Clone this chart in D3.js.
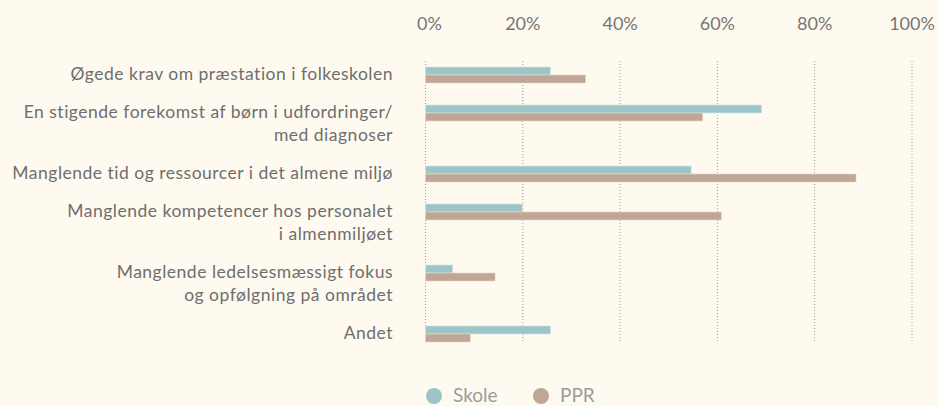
<!DOCTYPE html>
<html>
<head>
<meta charset="utf-8">
<script src="https://cdn.jsdelivr.net/npm/d3@7"></script>
<style>
  html, body { margin:0; padding:0; background:#fffaf0; }
  svg { display:block; font-family: Lato, "Open Sans", sans-serif; }
</style>
</head>
<body>
<svg id="svg" width="938" height="406"></svg>
<script>
// data
var categories = [
  ["Øgede krav om præstation i folkeskolen"],
  ["En stigende forekomst af børn i udfordringer/", "med diagnoser"],
  ["Manglende tid og ressourcer i det almene miljø"],
  ["Manglende kompetencer hos personalet", "i almenmiljøet"],
  ["Manglende ledelsesmæssigt fokus", "og opfølgning på området"],
  ["Andet"]
];
var skole = [25.7, 69.1, 54.6, 19.9, 5.6, 25.7];
var ppr = [32.9, 57.0, 88.5, 60.8, 14.3, 9.2];
var tickValues = [0, 20, 40, 60, 80, 100];
var seriesNames = ["Skole", "PPR"];
var colors = ["#9bc5c6", "#c0a694"];

var svg = d3.select("#svg");

var x = d3.scaleLinear().domain([0, 100]).range([425.5, 912]);

// rows get taller when the label wraps
var starts = [], acc = 0;
categories.forEach(function (c, i) {
  starts.push(acc);
  acc += c.length + 0.65;
});
var y = d3.scaleLinear().domain([0, starts[starts.length - 1]]).range([75, 334]);
var barH = 8;

// grid
svg.append("g")
  .selectAll("line")
  .data(tickValues).enter().append("line")
    .attr("x1", d => x(d)).attr("x2", d => x(d))
    .attr("y1", 61).attr("y2", 342)
    .attr("stroke", "#9a9a9a")
    .attr("stroke-width", 1)
    .attr("stroke-dasharray", "1,2");

// top axis labels
svg.append("g")
  .selectAll("text")
  .data(tickValues).enter().append("text")
    .attr("x", d => x(d) + (d === 0 ? 4 : 0))
    .attr("y", 30)
    .attr("text-anchor", "middle")
    .attr("fill", "#767676")
    .style("font-size", "18px")
    .text(d => d + "%");

// bars
var rows = svg.append("g").selectAll("g")
  .data(categories).enter().append("g");

rows.append("rect")
    .attr("x", x(0))
    .attr("y", (d, i) => y(starts[i]) - barH)
    .attr("width", (d, i) => x(skole[i]) - x(0))
    .attr("height", barH)
    .attr("fill", colors[0])
    .attr("stroke", "#d6e8e6").attr("stroke-width", 0.6);

rows.append("rect")
    .attr("x", x(0))
    .attr("y", (d, i) => y(starts[i]))
    .attr("width", (d, i) => x(ppr[i]) - x(0))
    .attr("height", barH)
    .attr("fill", colors[1])
    .attr("stroke", "#e6d8cc").attr("stroke-width", 0.6);

// category labels
rows.each(function (d, i) {
  var t = d3.select(this).append("text")
    .attr("text-anchor", "end")
    .attr("fill", "#6e6e6e")
    .style("font-size", "17.5px")
    .style("letter-spacing", "0.5px");
  d.forEach(function (line, j) {
    t.append("tspan")
      .attr("x", 393)
      .attr("y", y(starts[i]) + 5 + j * 23)
      .text(line);
  });
});

// legend
var leg = svg.append("g").selectAll("g")
  .data(seriesNames).enter().append("g")
    .attr("transform", (d, i) => "translate(" + (434 + i * 107) + ",396)");
leg.append("circle").attr("r", 8).attr("fill", (d, i) => colors[i]);
leg.append("text")
    .attr("x", 19).attr("y", 6)
    .attr("fill", "#9c9c9c")
    .style("font-size", "19px")
    .text(d => d);
</script>
</body>
</html>
